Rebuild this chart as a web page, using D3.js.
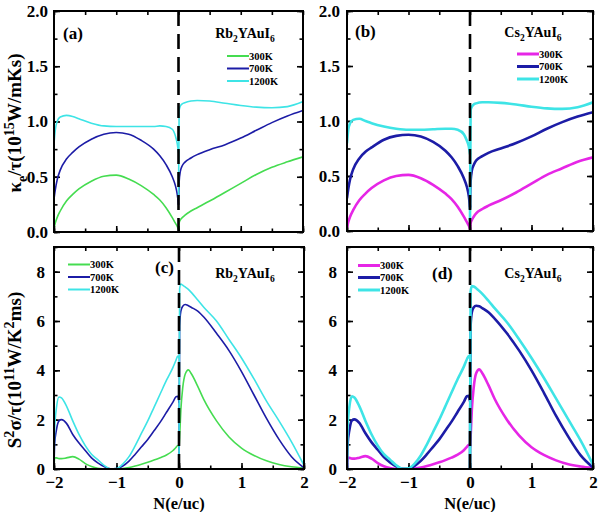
<!DOCTYPE html>
<html>
<head>
<meta charset="utf-8">
<script src="https://cdn.jsdelivr.net/npm/d3@7"></script>
<style>
  html, body { margin: 0; padding: 0; background: #fff; }
  svg { display: block; }
  text { font-family: "Liberation Serif", "Times New Roman", serif; font-weight: bold; fill: #000; }
</style>
</head>
<body>
<svg id="chart" width="600" height="512"></svg>
<script>
// ---------------- DATA ----------------
const tempLabels = ["300K", "700K", "1200K"];
const kTicks = [0, 0.5, 1.0, 1.5, 2.0];
const pTicks = [0, 2, 4, 6, 8];
const nTicks = [-2, -1, 0, 1, 2];

// Electronic thermal conductivity (kappa_e / tau), left branch (holes) and right branch (electrons)
const xKL = [-2, -1.98, -1.95, -1.9, -1.8, -1.7, -1.6, -1.4, -1.2, -1.0, -0.8, -0.6, -0.4, -0.3, -0.2, -0.1, -0.05, -0.02, 0];
const xKR = [0, 0.01, 0.03, 0.06, 0.1, 0.2, 0.3, 0.5, 0.75, 1.0, 1.25, 1.5, 1.75, 2.0];

const kRb300L  = [0.03,0.08,0.13,0.19,0.28,0.34,0.39,0.46,0.505,0.515,0.48,0.42,0.34,0.29,0.22,0.13,0.08,0.05,0.02];
const kRb700L  = [0.3,0.38,0.47,0.56,0.66,0.72,0.77,0.84,0.885,0.9,0.885,0.83,0.75,0.69,0.61,0.5,0.42,0.34,0.25];
const kRb1200L = [0.8,0.92,1.0,1.04,1.055,1.045,1.025,0.985,0.96,0.955,0.955,0.955,0.955,0.96,0.955,0.93,0.87,0.8,0.72];
const kRb300R  = [0.03,0.08,0.11,0.13,0.15,0.19,0.22,0.28,0.36,0.44,0.52,0.585,0.635,0.68];
const kRb700R  = [0.25,0.45,0.55,0.6,0.63,0.67,0.7,0.745,0.79,0.85,0.92,0.99,1.05,1.1];
const kRb1200R = [0.3,1.1,1.14,1.16,1.17,1.185,1.19,1.185,1.165,1.145,1.13,1.125,1.135,1.18];

const kCs300L  = [0.03,0.08,0.13,0.19,0.28,0.34,0.39,0.46,0.5,0.51,0.48,0.42,0.34,0.29,0.22,0.13,0.08,0.05,0.02];
const kCs700L  = [0.3,0.38,0.47,0.56,0.66,0.72,0.76,0.83,0.865,0.875,0.86,0.81,0.73,0.67,0.59,0.48,0.4,0.32,0.22];
const kCs1200L = [0.8,0.92,0.98,1.01,1.02,1.0,0.98,0.95,0.93,0.92,0.92,0.925,0.93,0.93,0.92,0.88,0.82,0.77,0.7];
const kCs300R  = [0.02,0.07,0.1,0.13,0.16,0.2,0.23,0.28,0.35,0.43,0.51,0.57,0.63,0.67];
const kCs700R  = [0.2,0.45,0.55,0.6,0.64,0.68,0.71,0.75,0.8,0.86,0.93,0.99,1.04,1.08];
const kCs1200R = [0.1,1.1,1.13,1.15,1.16,1.17,1.17,1.165,1.15,1.13,1.115,1.11,1.125,1.17];

// Power factor (S^2 sigma / tau)
const xPL = [-2, -1.99, -1.96, -1.92, -1.88, -1.8, -1.7, -1.6, -1.5, -1.4, -1.3, -1.2, -1.1, -1.0, -0.9, -0.8, -0.7, -0.6, -0.5, -0.4, -0.3, -0.2, -0.1, -0.05, -0.02, 0];
const xPR = [0, 0.01, 0.03, 0.06, 0.1, 0.15, 0.2, 0.3, 0.4, 0.6, 0.8, 1.0, 1.2, 1.4, 1.6, 1.8, 2.0];

const pRb300L  = [0,0.45,0.45,0.42,0.42,0.45,0.5,0.4,0.22,0.1,0.03,0.01,0,0,0.02,0.06,0.12,0.19,0.27,0.36,0.46,0.57,0.74,0.87,0.95,0.95];
const pRb700L  = [0,1.0,1.6,1.95,2.0,1.85,1.4,1.05,0.75,0.45,0.25,0.1,0.01,0.02,0.12,0.32,0.6,0.9,1.2,1.55,1.9,2.3,2.7,2.92,2.95,2.7];
const pRb1200L = [0,1.6,2.5,2.92,2.88,2.55,1.95,1.4,0.95,0.6,0.38,0.15,0.01,0.02,0.2,0.5,0.95,1.45,1.95,2.5,3.05,3.6,4.1,4.4,4.58,4.5];
const pRb300R  = [0.8,1.3,2.4,3.3,3.85,4.02,3.85,3.35,2.8,1.95,1.3,0.85,0.55,0.33,0.18,0.09,0.04];
const pRb700R  = [0,5.8,6.4,6.6,6.67,6.62,6.55,6.4,6.15,5.5,4.8,3.95,3.0,2.05,1.2,0.5,0.05];
const pRb1200R = [0,7.3,7.5,7.45,7.38,7.28,7.15,6.85,6.55,6.0,5.25,4.5,3.65,2.75,1.95,1.1,0.15];

const pCs300L  = [0,0.45,0.45,0.42,0.42,0.46,0.52,0.42,0.24,0.11,0.04,0.01,0,0,0.02,0.06,0.12,0.19,0.27,0.36,0.46,0.58,0.76,0.9,0.98,0.97];
const pCs700L  = [0,1.0,1.6,1.97,2.01,1.87,1.45,1.08,0.78,0.48,0.27,0.11,0.01,0.02,0.13,0.33,0.6,0.9,1.2,1.56,1.92,2.32,2.72,2.95,2.97,2.75];
const pCs1200L = [0,1.7,2.55,2.95,2.9,2.55,1.95,1.4,0.95,0.6,0.38,0.15,0.01,0.03,0.22,0.55,1.0,1.5,2.0,2.55,3.1,3.65,4.15,4.45,4.58,4.5];
const pCs300R  = [0.9,1.3,2.4,3.3,3.88,4.04,3.88,3.4,2.85,2.0,1.35,0.88,0.57,0.35,0.19,0.1,0.04];
const pCs700R  = [0,5.8,6.35,6.55,6.62,6.6,6.52,6.35,6.1,5.5,4.8,4.0,3.1,2.15,1.3,0.55,0.06];
const pCs1200R = [0,7.2,7.42,7.4,7.33,7.22,7.1,6.82,6.52,5.95,5.25,4.5,3.7,2.85,2.0,1.15,0.18];

// ---------------- STYLE / LAYOUT ----------------
const GREEN = "#45dc50", BLUE = "#1c1ca6", CYAN = "#3ee4e6", MAGENTA = "#e626e6";

const panels = [
  { tag: "(a)", comp: "Rb", x0: 54, x1: 303, y0: 11, y1: 232, ymax: 2, yTicks: kTicks, yMinor: 0.25, yFmt: d3.format(".1f"),
    xl: [xKL, xKL, xKL], xr: [xKR, xKR, xKR], L: [kRb300L, kRb700L, kRb1200L], R: [kRb300R, kRb700R, kRb1200R],
    colors: [GREEN, BLUE, CYAN], lw: 1.6, xLabels: false, ylPad: 6,
    tagPos: [63, 39], compPos: [245, 38], leg: { x: 227, y: [56, 68.5, 81] } },
  { tag: "(b)", comp: "Cs", x0: 347, x1: 593, y0: 11, y1: 231, ymax: 2, yTicks: kTicks, yMinor: 0.25, yFmt: d3.format(".1f"),
    xl: [xKL, xKL, xKL], xr: [xKR, xKR, xKR], L: [kCs300L, kCs700L, kCs1200L], R: [kCs300R, kCs700R, kCs1200R],
    colors: [MAGENTA, BLUE, CYAN], lw: 2.6, xLabels: false, ylPad: 7,
    tagPos: [355, 37], compPos: [533, 37], leg: { x: 517, y: [54, 66.5, 79] } },
  { tag: "(c)", comp: "Rb", x0: 54, x1: 304, y0: 247, y1: 469, ymax: 9, yTicks: pTicks, yMinor: 1, yFmt: d3.format("d"),
    xl: [xPL, xPL, xPL], xr: [xPR, xPR, xPR], L: [pRb300L, pRb700L, pRb1200L], R: [pRb300R, pRb700R, pRb1200R],
    colors: [GREEN, BLUE, CYAN], lw: 1.6, xLabels: true, ylPad: 9,
    tagPos: [155, 273], compPos: [245, 278], leg: { x: 68, y: [264.5, 277, 289.5] } },
  { tag: "(d)", comp: "Cs", x0: 347, x1: 593, y0: 247, y1: 469, ymax: 9, yTicks: pTicks, yMinor: 1, yFmt: d3.format("d"),
    xl: [xPL, xPL, xPL], xr: [xPR, xPR, xPR], L: [pCs300L, pCs700L, pCs1200L], R: [pCs300R, pCs700R, pCs1200R],
    colors: [MAGENTA, BLUE, CYAN], lw: 2.6, xLabels: true, ylPad: 10,
    tagPos: [432, 279], compPos: [533, 278], leg: { x: 358, y: [265.5, 277.5, 290] } }
];

const svg = d3.select("#chart");

function rich(parent, segs, size, scriptRatio) {
  const r = scriptRatio || 0.68;
  const t = parent.append("text").attr("font-size", size);
  let shift = 0;
  segs.forEach(s => {
    const target = s.sub ? size * 0.3 : s.sup ? -size * 0.38 : 0;
    t.append("tspan")
      .attr("dy", target - shift)
      .attr("font-size", (s.sub || s.sup) ? size * r : size)
      .text(s.t);
    shift = target;
  });
  return t;
}

function styleAxis(g, fontSize) {
  g.select(".domain").remove();
  g.selectAll(".tick line").attr("stroke", "#000").attr("stroke-width", 1.6);
  g.selectAll(".tick text")
    .attr("font-family", "'Liberation Serif', serif")
    .attr("font-weight", "bold")
    .attr("font-size", fontSize)
    .attr("fill", "#000");
}

panels.forEach(p => {
  const x = d3.scaleLinear().domain([-2, 2]).range([p.x0, p.x1]);
  const y = d3.scaleLinear().domain([0, p.ymax]).range([p.y1, p.y0]);
  const g = svg.append("g");

  const xMinor = d3.range(-2, 2.0001, 0.5);
  const yMinor = d3.range(0, p.ymax + 0.0001, p.yMinor);

  // ticks - bottom
  const bMaj = g.append("g").attr("transform", `translate(0,${p.y1})`)
    .call(d3.axisBottom(x).tickValues(nTicks).tickSize(-6).tickPadding(7)
      .tickFormat(p.xLabels ? d3.format("d") : () => ""));
  styleAxis(bMaj, 17);
  const bMin = g.append("g").attr("transform", `translate(0,${p.y1})`)
    .call(d3.axisBottom(x).tickValues(xMinor).tickSize(-3.5).tickFormat(() => ""));
  styleAxis(bMin, 10);
  // top
  const tMaj = g.append("g").attr("transform", `translate(0,${p.y0})`)
    .call(d3.axisTop(x).tickValues(xMinor).tickSize(-4).tickFormat(() => ""));
  styleAxis(tMaj, 10);
  // left
  const lMaj = g.append("g").attr("transform", `translate(${p.x0},0)`)
    .call(d3.axisLeft(y).tickValues(p.yTicks).tickSize(-6).tickPadding(p.ylPad).tickFormat(p.yFmt));
  styleAxis(lMaj, 17);
  const lMin = g.append("g").attr("transform", `translate(${p.x0},0)`)
    .call(d3.axisLeft(y).tickValues(yMinor).tickSize(-3.5).tickFormat(() => ""));
  styleAxis(lMin, 10);
  // right
  const rMaj = g.append("g").attr("transform", `translate(${p.x1},0)`)
    .call(d3.axisRight(y).tickValues(p.yTicks).tickSize(-6).tickFormat(() => ""));
  styleAxis(rMaj, 10);
  const rMin = g.append("g").attr("transform", `translate(${p.x1},0)`)
    .call(d3.axisRight(y).tickValues(yMinor).tickSize(-3.5).tickFormat(() => ""));
  styleAxis(rMin, 10);

  // curves
  const clipId = "clip" + p.tag.replace(/\W/g, "");
  svg.append("clipPath").attr("id", clipId).append("rect")
    .attr("x", p.x0).attr("y", p.y0).attr("width", p.x1 - p.x0).attr("height", p.y1 - p.y0);
  const curveG = g.append("g").attr("clip-path", `url(#${clipId})`);
  const line = d3.line().x(d => x(d[0])).y(d => y(d[1])).curve(d3.curveMonotoneX);
  [0, 1, 2].forEach(i => {
    const left = p.xl[i].map((xv, j) => [xv, p.L[i][j]]);
    const right = p.xr[i].map((xv, j) => [xv, p.R[i][j]]);
    [left, right].forEach(pts => {
      curveG.append("path").datum(pts).attr("d", line)
        .attr("fill", "none").attr("stroke", p.colors[i])
        .attr("stroke-width", p.lw).attr("stroke-linejoin", "round").attr("stroke-linecap", "round");
    });
  });

  // dashed zero line
  g.append("line").attr("x1", x(0)).attr("x2", x(0)).attr("y1", p.y0).attr("y2", p.y1)
    .attr("stroke", "#000").attr("stroke-width", 2.6).attr("stroke-dasharray", "15,8");

  // frame
  g.append("rect").attr("x", p.x0).attr("y", p.y0).attr("width", p.x1 - p.x0).attr("height", p.y1 - p.y0)
    .attr("fill", "none").attr("stroke", "#000").attr("stroke-width", 2);

  // panel tag
  g.append("text").attr("x", p.tagPos[0]).attr("y", p.tagPos[1]).attr("font-size", 17).text(p.tag);

  // compound label
  const comp = rich(g, [{ t: p.comp }, { t: "2", sub: true }, { t: "YAuI" }, { t: "6", sub: true }], 14);
  comp.attr("x", p.compPos[0]).attr("y", p.compPos[1]).attr("text-anchor", "middle");

  // legend
  tempLabels.forEach((lab, i) => {
    g.append("line").attr("x1", p.leg.x).attr("x2", p.leg.x + 22)
      .attr("y1", p.leg.y[i]).attr("y2", p.leg.y[i])
      .attr("stroke", p.colors[i]).attr("stroke-width", p.lw + 0.4);
    g.append("text").attr("x", p.leg.x + 22).attr("y", p.leg.y[i] + 3.5)
      .attr("font-size", 10.5).text(lab);
  });

  if (p.xLabels) {
    g.append("text").attr("x", (p.x0 + p.x1) / 2).attr("y", 509)
      .attr("text-anchor", "middle").attr("font-size", 16.5).text("N(e/uc)");
  }
});

// y-axis titles
const yl1 = rich(svg, [{ t: "κ" }, { t: "e", sub: true }, { t: "/τ(10" }, { t: "15", sup: true }, { t: "W/mKs)" }], 19, 0.75);
yl1.attr("text-anchor", "middle").attr("transform", "translate(21,123) rotate(-90)");
const yl2 = rich(svg, [{ t: "S" }, { t: "2", sup: true }, { t: "σ/τ(10" }, { t: "11", sup: true }, { t: "W/K" }, { t: "2", sup: true }, { t: "ms)" }], 19, 0.75);
yl2.attr("text-anchor", "middle").attr("transform", "translate(21,370) rotate(-90)");
</script>
</body>
</html>
